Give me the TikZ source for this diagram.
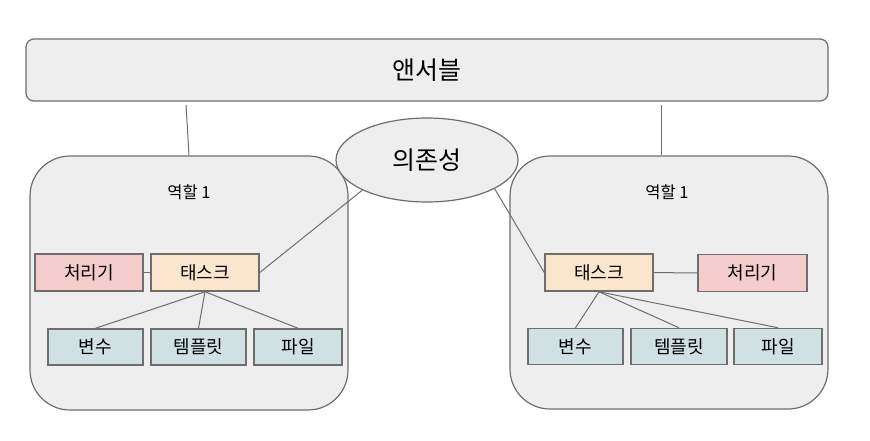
\documentclass[tikz,border=0pt]{standalone}
\usepackage{fontspec}
\setmainfont{Noto Sans CJK KR}
\usepackage{tikz}
\usetikzlibrary{positioning,shapes.geometric}
\definecolor{boxgray}{HTML}{EEEEEE}
\definecolor{linegray}{HTML}{6E6E6E}
\definecolor{handlerred}{HTML}{F4CCCC}
\definecolor{taskorange}{HTML}{FCE5CD}
\definecolor{leafblue}{HTML}{D0E0E3}

\begin{document}
\begin{tikzpicture}[x=1pt,y=-1pt,
  panel/.style={draw=linegray,line width=1.2pt,fill=boxgray,inner sep=0pt},
  item/.style={draw=linegray,line width=1.5pt,inner sep=0pt,minimum height=37pt,font=\fontsize{18}{21}\selectfont},
  link/.style={draw=linegray,line width=1pt}]
\useasboundingbox (0,0) rectangle (870,440);
\node[panel,rounded corners=8pt,minimum width=802pt,minimum height=62pt,font=\fontsize{25}{30}\selectfont] (node_bar) at (427,70) {앤서블};
\node[panel,rounded corners=40pt,minimum width=318pt,minimum height=254pt] (role_left) at (189,283) {};
\node[panel,rounded corners=40pt,minimum width=318pt,minimum height=253pt] (role_right) at (669,282.5) {};
\node[panel,ellipse,minimum width=182pt,minimum height=84pt,font=\fontsize{25}{30}\selectfont] (node_dep) at (427,160) {의존성};
\node[font=\fontsize{16.5}{20}\selectfont] (title_left) at (189,192) {역할 1};
\node[font=\fontsize{16.5}{20}\selectfont] (title_right) at (667,192) {역할 1};
\coordinate (bar_left) at (186,105);
\coordinate (bar_right) at (661,105);
% left role
\node[item,fill=handlerred,minimum width=108pt] (handler_left) at (89,272.5) {처리기};
\node[item,fill=taskorange,minimum width=108pt] (task_left) at (205,272.5) {태스크};
\node[item,fill=leafblue,minimum width=95pt,minimum height=36pt] (vars_left) at (95.5,347) {변수};
\node[item,fill=leafblue,minimum width=95pt,minimum height=36pt] (tmpl_left) at (198.5,347) {템플릿};
\node[item,fill=leafblue,minimum width=88pt,minimum height=36pt] (file_left) at (298,347) {파일};
% right role
\node[item,fill=taskorange,minimum width=108pt] (task_right) at (599,272.5) {태스크};
\node[item,fill=handlerred,minimum width=109pt] (handler_right) at (752.5,273) {처리기};
\node[item,fill=leafblue,minimum width=95pt,minimum height=36pt] (vars_right) at (575.5,346.5) {변수};
\node[item,fill=leafblue,minimum width=96pt,minimum height=36pt] (tmpl_right) at (679,346.5) {템플릿};
\node[item,fill=leafblue,minimum width=88pt,minimum height=36pt] (file_right) at (778,346.5) {파일};
% connectors
\draw[link] (bar_left) -- (role_left.north);
\draw[link] (bar_right) -- (bar_right |- role_right.north);
\draw[link] (task_left.east) -- (node_dep.205);
\draw[link] (node_dep.337) -- (task_right.west);
\draw[link] (handler_left) -- (task_left);
\draw[link] (task_right) -- (handler_right);
\draw[link] (task_left.south) -- (vars_left.north);
\draw[link] (task_left.south) -- (tmpl_left.north);
\draw[link] (task_left.south) -- (file_left.north);
\draw[link] (task_right.south) -- (vars_right.north);
\draw[link] (task_right.south) -- (tmpl_right.north);
\draw[link] (task_right.south) -- (file_right.north);
\end{tikzpicture}
\end{document}
